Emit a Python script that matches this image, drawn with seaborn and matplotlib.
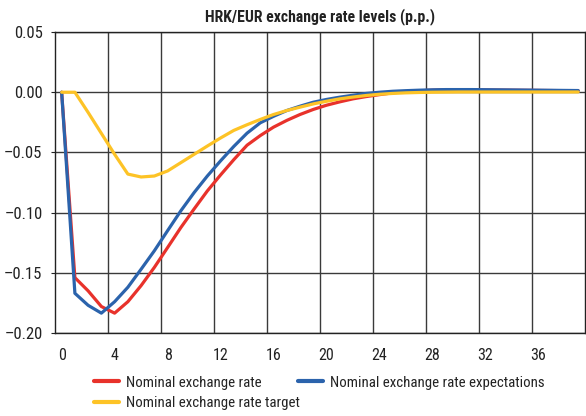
import os
import matplotlib
matplotlib.use("Agg")
import matplotlib.pyplot as plt
from matplotlib import font_manager as fm
from matplotlib.lines import Line2D
import seaborn as sns
import pandas as pd

periods = list(range(40))
nominal_rate = [0, -0.154, -0.165, -0.178, -0.1835, -0.174, -0.1606, -0.1455, -0.129, -0.1124,
                -0.097, -0.082, -0.0687, -0.056, -0.044, -0.036, -0.029, -0.0234, -0.0185, -0.0143,
                -0.0108, -0.008, -0.0055, -0.0036, -0.002, -0.0005, 0.0005, 0.0012, 0.0017, 0.002,
                0.002, 0.002, 0.0019, 0.0018, 0.0017, 0.0016, 0.0015, 0.0014, 0.0013, 0.0012]
expectations = [0, -0.167, -0.177, -0.1835, -0.174, -0.162, -0.147, -0.1317, -0.115, -0.0985,
                -0.0834, -0.0696, -0.057, -0.045, -0.034, -0.0254, -0.020, -0.0152, -0.0116, -0.0083,
                -0.006, -0.0041, -0.0025, -0.001, 0.0, 0.0008, 0.0013, 0.0017, 0.002, 0.0022,
                0.0022, 0.0022, 0.0021, 0.002, 0.0019, 0.0018, 0.0017, 0.0016, 0.0015, 0.0014]
target = [0, 0, -0.0168, -0.0342, -0.0516, -0.068, -0.0704, -0.0696, -0.0654, -0.0585,
          -0.0516, -0.0447, -0.038, -0.0317, -0.027, -0.0226, -0.0185, -0.0152, -0.0124, -0.0097,
          -0.0075, -0.0055, -0.004, -0.0027, -0.0017, -0.001, -0.0005, -0.0002, 0, 0.0001,
          0.0002, 0.0002, 0.0002, 0.0002, 0.0002, 0.0002, 0.0002, 0.0002, 0.0002, 0.0002]

series_names = ["Nominal exchange rate", "Nominal exchange rate expectations", "Nominal exchange rate target"]
series_colors = ["#E8322B", "#2B63AC", "#FDC326"]
x_ticks = list(range(0, 37, 4))
y_ticks = [-0.20, -0.15, -0.10, -0.05, 0.00, 0.05]
title = "HRK/EUR exchange rate levels (p.p.)"

df = pd.concat([
    pd.DataFrame({"period": periods, "value": nominal_rate, "series": series_names[0]}),
    pd.DataFrame({"period": periods, "value": expectations, "series": series_names[1]}),
    pd.DataFrame({"period": periods, "value": target, "series": series_names[2]}),
])

sns.set_style("white")
plt.rcParams["font.family"] = ["Liberation Sans", "DejaVu Sans"]
plt.rcParams["axes.unicode_minus"] = True


# ---- look for an installed condensed sans font (reference uses a narrow face)
def _wt(w):
    if isinstance(w, str):
        return fm.weight_dict.get(w, 400)
    return int(w)


def _cond_candidates():
    out = []
    for f in fm.fontManager.ttflist:
        tag = f.name + " " + os.path.basename(f.fname)
        if not any(k in tag for k in ("Narrow", "Condensed", "Cond")):
            continue
        if any(k in tag for k in ("Mono", "Serif", "Extra", "Ultra", "Semi", "Italic", "Oblique")):
            continue
        if f.style != "normal":
            continue
        out.append(f)
    return out


def _rank(f):
    pref = ["Liberation Sans Narrow", "Arial Narrow", "Roboto Condensed", "Open Sans Condensed",
            "Noto Sans", "DejaVu Sans", "Roboto", "Open Sans", "Lato", "Inter"]
    for i, p in enumerate(pref):
        if f.name.startswith(p):
            return i
    return len(pref)


cands = _cond_candidates()
reg = sorted([f for f in cands if 350 <= _wt(f.weight) <= 450], key=_rank)
bold = sorted([f for f in cands if _wt(f.weight) >= 600], key=_rank)

if reg:
    fp_reg = fm.FontProperties(fname=reg[0].fname)
    same_bold = [b for b in bold if b.name == reg[0].name]
    fp_bold = fm.FontProperties(fname=(same_bold or bold or reg)[0].fname)
    s_tick, s_leg, s_title = 11.5, 10.75, 11.3
else:
    fp_reg = fm.FontProperties(family=["Liberation Sans", "DejaVu Sans"])
    fp_bold = fm.FontProperties(family=["Liberation Sans", "DejaVu Sans"], weight="bold")
    s_tick, s_leg, s_title = 9.5, 8.8, 9.6

fig = plt.figure(figsize=(5.86, 4.16), dpi=100)
ax = fig.add_axes([0.0939, 0.1995, 0.904, 0.7235])

sns.lineplot(data=df, x="period", y="value", hue="series", hue_order=series_names,
             palette=series_colors, linewidth=2.3, ax=ax, legend=False)

ax.set_xlim(-0.5, 39.5)
ax.set_ylim(-0.20, 0.05)
ax.set_yticks(y_ticks)
ax.set_yticklabels([f"{v:.2f}".replace("-", "\u2013") for v in y_ticks],
                   fontproperties=fp_reg, fontsize=s_tick + 0.5, color="#222222")
ax.set_xticks(x_ticks)
ax.set_xticklabels([str(v) for v in x_ticks], fontproperties=fp_reg, fontsize=s_tick, color="#222222")
ax.set_xticks([k - 0.5 for k in range(4, 40, 4)], minor=True)
ax.tick_params(axis="x", which="both", length=0, pad=11)
ax.tick_params(axis="y", length=3, width=0.8, color="#222222", direction="out", left=True, pad=6)

ax.grid(False)
ax.xaxis.grid(True, which="minor", color="#3a3a3a", linewidth=1.0)
ax.yaxis.grid(True, which="major", color="#3a3a3a", linewidth=1.0)
ax.set_axisbelow(True)
for sp in ax.spines.values():
    sp.set_visible(True)
    sp.set_color("#222222")
    sp.set_linewidth(1.0)

ax.set_xlabel("")
ax.set_ylabel("")
ax.set_title(title, fontproperties=fp_bold, fontsize=s_title, color="#222222", pad=7.5)

handles = [Line2D([], [], color=c, linewidth=3) for c in series_colors]
leg_prop = fp_reg.copy()
leg_prop.set_size(s_leg)
leg_kw = dict(frameon=False, handlelength=1.7, handletextpad=0.43, borderpad=0, borderaxespad=0,
              labelcolor="#222222", prop=leg_prop)
fig.legend(handles[:2], series_names[:2], loc="center left", bbox_to_anchor=(94 / 586, 1 - 382.7 / 416),
           ncol=2, columnspacing=2.45, **leg_kw)
fig.legend(handles[2:], series_names[2:], loc="center left", bbox_to_anchor=(94 / 586, 1 - 403.5 / 416),
           ncol=1, **leg_kw)

fig.savefig("out.png", dpi=100)
